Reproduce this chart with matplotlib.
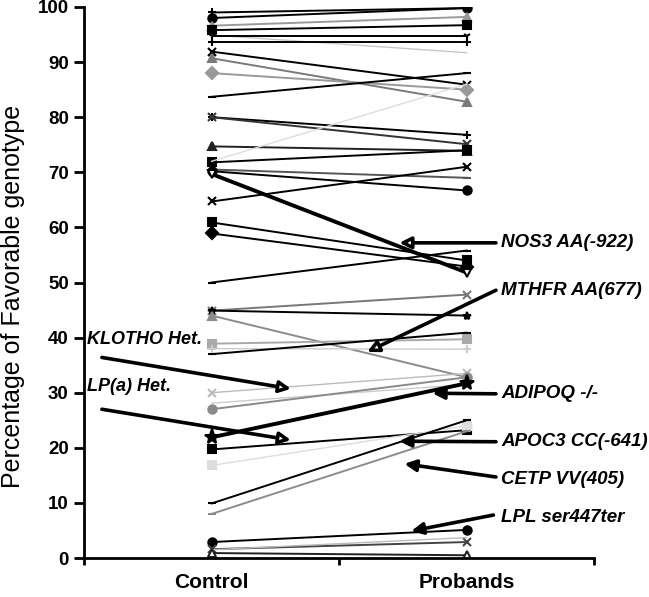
import matplotlib
matplotlib.use("Agg")
import matplotlib.pyplot as plt

plt.rcParams['font.family'] = ['Liberation Sans', 'DejaVu Sans']

groups = ["Control", "Probands"]

# percentage of favorable genotype, one pair per gene polymorphism
control = [99.0, 98.0, 96.6, 95.8, 94.9, 94.7, 93.7, 91.9, 90.7, 88.0,
           83.7, 80.0, 80.0, 74.7, 71.8, 70.5, 70.2, 69.7, 72.0, 64.7,
           60.9, 58.9, 50.0, 44.9, 44.9, 44.0, 38.9, 38.0, 37.0, 30.0,
           28.1, 27.0, 21.9, 19.7, 16.8, 9.9, 8.0, 2.9, 1.6, 1.5, 0.9]
probands = [99.8, 99.8, 98.2, 96.7, 91.7, 94.7, 93.7, 85.9, 82.8, 85.0,
            88.0, 76.8, 75.1, 73.9, 74.0, 69.0, 66.7, 51.8, 86.0, 71.0,
            54.0, 52.9, 55.8, 47.8, 44.0, 32.8, 39.7, 37.9, 40.9, 33.5,
            31.5, 32.8, 31.7, 23.2, 24.0, 25.0, 23.0, 5.1, 2.9, 3.7, 0.5]

colors = ['k', 'k', '#9a9a9a', 'k', '#c8c8c8', 'k', 'k', 'k', '#7a7a7a', '#999999',
          'k', 'k', '#333333', '#222222', 'k', '#555555', 'k', 'k', '#dddddd', 'k',
          'k', 'k', 'k', '#777777', 'k', '#8c8c8c', '#aaaaaa', '#cccccc', 'k', '#bbbbbb',
          '#cccccc', '#8a8a8a', 'k', 'k', '#dddddd', 'k', '#8c8c8c', 'k', '#444444', '#bbbbbb',
          '#222222']
markers = ['+', 'o', '^', 's', '', '1', '+', 'x', '^', 'D',
           '_', '+', 'x', '^', 's', '_', 'o', 'v', '', 'x',
           's', 'D', '_', 'x', '*', '^', 's', '+', '_', 'x',
           '', 'o', '*', 's', 's', '_', '_', 'o', 'x', '',
           '^']
thick = {17, 32}          # NOS3 and ADIPOQ
open_marks = {17, 40}
light = ('#dddddd', '#cccccc', '#c8c8c8', '#bbbbbb')

# (label, text xy, arrow start, arrow tip, filled head, font size)
notes = [
    ("NOS3 AA(-922)", (1.635, 57.2), (1.615, 57.2), (1.236, 57.2), False, 13.5),
    ("MTHFR AA(677)", (1.635, 48.6), (1.615, 48.6), (1.110, 37.4), False, 13.5),
    ("ADIPOQ -/-", (1.635, 29.8), (1.615, 29.8), (1.366, 29.9), True, 13.5),
    ("APOC3 CC(-641)", (1.635, 21.1), (1.615, 21.1), (1.236, 21.2), True, 13.5),
    ("CETP VV(405)", (1.635, 14.2), (1.615, 14.7), (1.256, 17.1), True, 13.5),
    ("LPL ser447ter", (1.635, 7.3), (1.605, 7.8), (1.283, 4.9), True, 13.5),
    ("KLOTHO Het.", (0.01, 39.6), (0.07, 36.4), (0.811, 30.7), False, 13),
    ("LP(a) Het.", (0.01, 31.2), (0.07, 27.0), (0.811, 21.4), False, 13),
]

fig = plt.figure(figsize=(6.49, 5.97), dpi=100)
ax = fig.add_axes([0.1295, 0.0653, 0.786, 0.923])

xs = [0.5, 1.5]
for i in range(len(control)):
    lw = 2.8 if i in thick else (1.0 if colors[i] in light else 1.4)
    ms = 11 if i == 32 else 6
    mfc = 'white' if i in open_marks else colors[i]
    ax.plot(xs, [control[i], probands[i]], color=colors[i], lw=lw,
            marker=markers[i] if markers[i] else None, ms=ms, mfc=mfc,
            mec=colors[i], mew=1.5, zorder=3 if i in thick else 2)

for label, txt, start, tip, filled, fs in notes:
    ax.text(txt[0], txt[1], label, ha='left', va='center', fontsize=fs,
            fontweight='bold', fontstyle='italic', clip_on=False)
    ax.annotate('', xy=tip, xytext=start,
                arrowprops=dict(arrowstyle='-|>', lw=2.6, mutation_scale=17,
                                facecolor='black' if filled else 'white',
                                edgecolor='black', shrinkA=0, shrinkB=0),
                annotation_clip=False)

ax.set_xlim(0, 2)
ax.set_ylim(0, 100)
ax.set_yticks(range(0, 101, 10))
ax.set_xticks([0, 1, 2])
ax.set_xticklabels([])
ax.set_xticks(xs, minor=True)
ax.set_xticklabels(groups, minor=True, fontsize=15, fontweight='bold')
ax.tick_params(axis='x', which='minor', length=0, pad=11)
ax.tick_params(axis='x', which='major', length=5, width=2, direction='out')
ax.tick_params(axis='y', length=7, width=2, direction='out', pad=4, labelsize=13.5)
for t in ax.get_yticklabels():
    t.set_fontweight('bold')

for s in ['top', 'right']:
    ax.spines[s].set_visible(False)
for s in ['left', 'bottom']:
    ax.spines[s].set_linewidth(2)

ax.set_ylabel("Percentage of Favorable genotype", fontsize=18)
ax.yaxis.set_label_coords(-0.115, 0.475)

fig.savefig("out.png", dpi=100)
